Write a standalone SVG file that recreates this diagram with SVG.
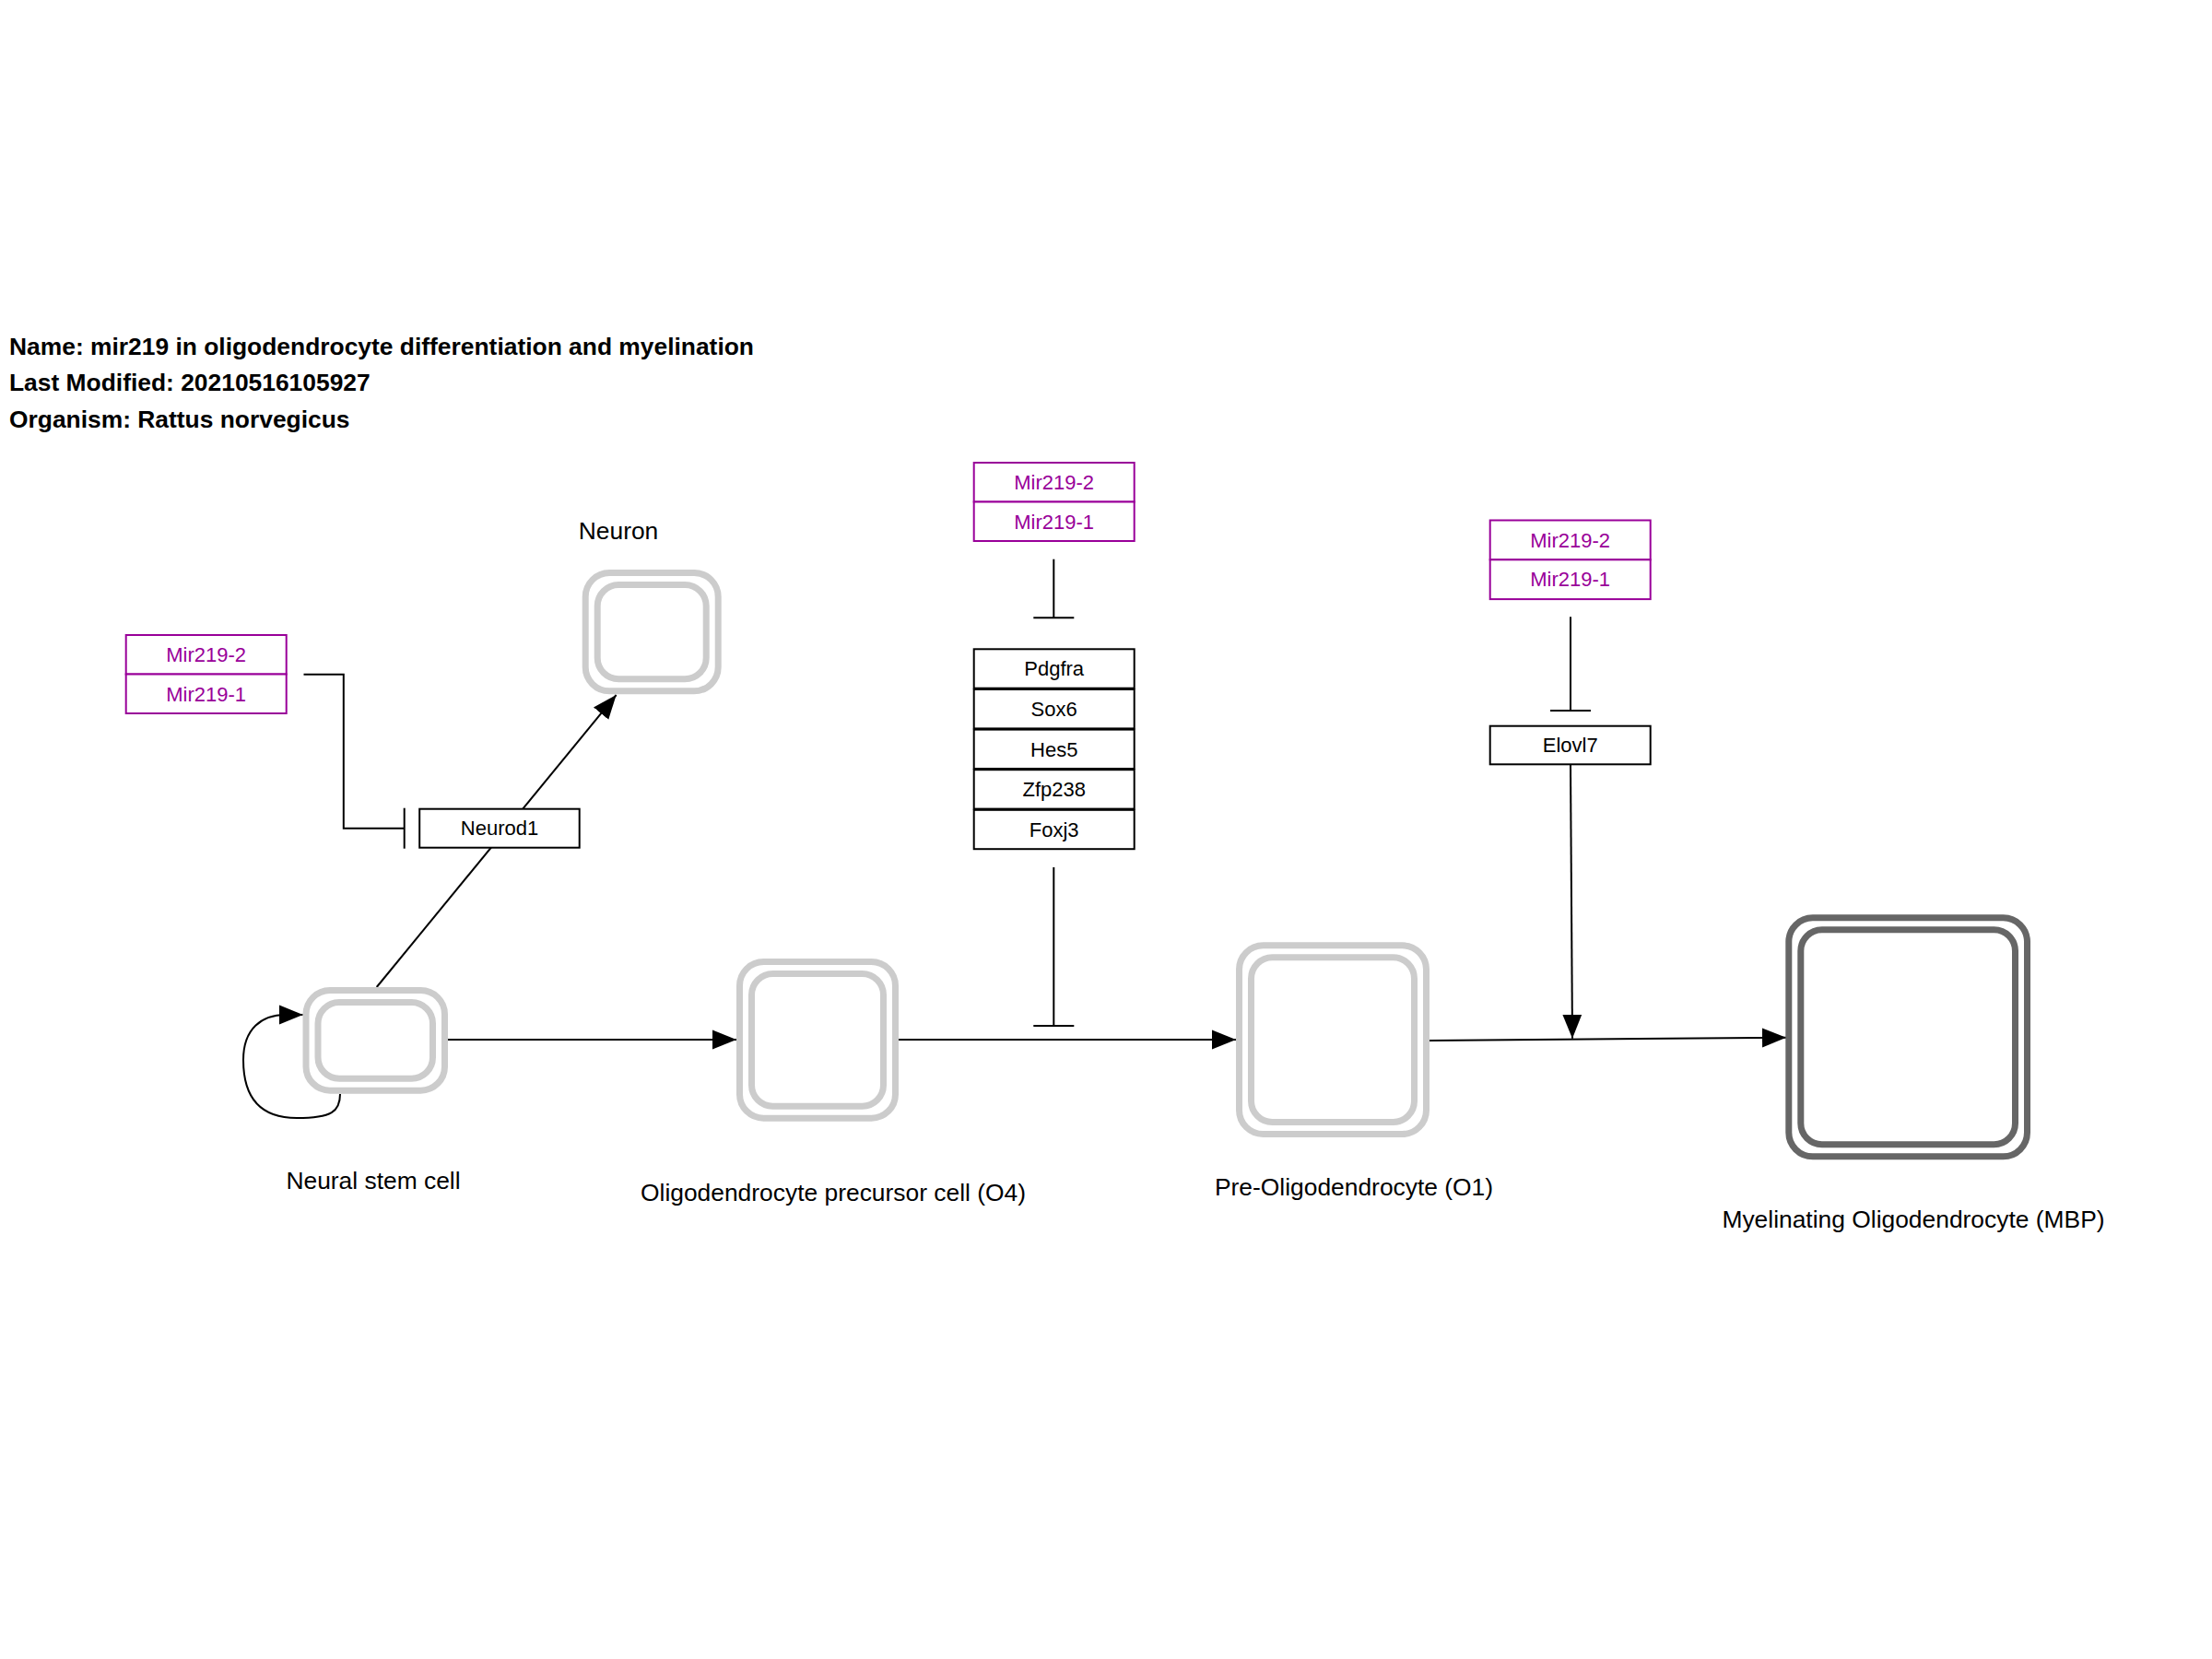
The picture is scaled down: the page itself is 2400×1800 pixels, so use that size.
<svg xmlns="http://www.w3.org/2000/svg" width="2400" height="1800" viewBox="0 0 2400 1800">
  <style>
    .title { font-family: "Liberation Sans", Arial, sans-serif; font-size: 26.4px; font-weight: bold; fill: #000; }
    .label { font-family: "Liberation Sans", Arial, sans-serif; font-size: 26.4px; fill: #000; text-anchor: middle; }
    .gene rect { fill: #fff; stroke: #000; stroke-width: 2; }
    .gene text { font-family: "Liberation Sans", Arial, sans-serif; font-size: 22px; fill: #000; text-anchor: middle; }
    .mirna rect { fill: #fff; stroke: #990099; stroke-width: 2; }
    .mirna text { font-family: "Liberation Sans", Arial, sans-serif; font-size: 22px; fill: #990099; text-anchor: middle; }
    .cell rect { fill: none; stroke-width: 7; }
    .cell.light rect { stroke: #cccccc; }
    .cell.dark rect { stroke: #666666; }
    .conn path, .conn line { fill: none; stroke: #000; stroke-width: 2; }
    .arrow { marker-end: url(#arrow); }
    .tbar { marker-end: url(#tbar); }
  </style>
  <defs>
    <marker id="arrow" markerUnits="userSpaceOnUse" markerWidth="28" markerHeight="24" viewBox="0 -12 28 24" refX="26" refY="0" orient="auto">
      <path d="M0,-10.5 L26,0 L0,10.5 Z" fill="#000" stroke="none"/>
    </marker>
    <marker id="tbar" markerUnits="userSpaceOnUse" markerWidth="6" markerHeight="48" viewBox="-3 -24 6 48" refX="0" refY="0" orient="auto">
      <path d="M0,-22 L0,22" stroke="#000" stroke-width="2" fill="none"/>
    </marker>
  </defs>
  <rect x="0" y="0" width="2400" height="1800" fill="#fff"/>

  <g id="info">
    <text class="title" x="10" y="384.5">Name: mir219 in oligodendrocyte differentiation and myelination</text>
    <text class="title" x="10" y="424.3">Last Modified: 20210516105927</text>
    <text class="title" x="10" y="464">Organism: Rattus norvegicus</text>
  </g>

  <g id="connectors" class="conn">
    <path class="arrow" d="M486,1128 L799,1128"/>
    <path class="arrow" d="M975,1128 L1341,1128"/>
    <path class="arrow" d="M1551,1129 L1938,1125.7"/>
    <path class="arrow" d="M408.7,1071 L668.6,754"/>
    <path class="arrow" d="M369,1187 C369,1206 360,1213 322,1213 C282,1213 264,1190 264,1150 C264,1116 284,1101 310,1101 L328.7,1101"/>
    <path class="tbar" d="M329.5,731.7 L372.8,731.7 L372.8,898.7 L438.7,898.7"/>
    <path class="tbar" d="M1143.3,606.7 L1143.3,670.3"/>
    <path class="tbar" d="M1143.3,941 L1143.3,1113"/>
    <path class="tbar" d="M1704,669.3 L1704,771"/>
    <path class="arrow" d="M1704,830 L1706,1126.7"/>
  </g>

  <g id="cell-nsc" class="cell light">
    <rect x="332" y="1074.5" width="150.5" height="108.7" rx="26"/>
    <rect x="345" y="1087.5" width="124.5" height="82.7" rx="23"/>
  </g>
  <g id="cell-neuron" class="cell light">
    <rect x="635.2" y="621.5" width="144" height="128.3" rx="26"/>
    <rect x="648.2" y="634.5" width="118" height="102.3" rx="23"/>
  </g>
  <g id="cell-opc" class="cell light">
    <rect x="802.5" y="1043.5" width="169" height="169.7" rx="26"/>
    <rect x="815.5" y="1056.5" width="143" height="143.7" rx="23"/>
  </g>
  <g id="cell-preol" class="cell light">
    <rect x="1344.5" y="1025.8" width="203" height="204.7" rx="26"/>
    <rect x="1357.5" y="1038.8" width="177" height="178.7" rx="23"/>
  </g>
  <g id="cell-myol" class="cell dark">
    <rect x="1940.8" y="995.8" width="258.7" height="259" rx="26"/>
    <rect x="1953.8" y="1008.8" width="232.7" height="233" rx="23"/>
  </g>

  <g id="labels">
    <text class="label" x="671" y="585">Neuron</text>
    <text class="label" x="405" y="1290">Neural stem cell</text>
    <text class="label" x="904" y="1303">Oligodendrocyte precursor cell (O4)</text>
    <text class="label" x="1469" y="1297">Pre-Oligodendrocyte (O1)</text>
    <text class="label" x="2076" y="1332">Myelinating Oligodendrocyte (MBP)</text>
  </g>

  <g id="mir-left" class="mirna">
    <rect x="136.7" y="689" width="174" height="42.5"/>
    <text x="223.7" y="718">Mir219-2</text>
    <rect x="136.7" y="731.5" width="174" height="42.5"/>
    <text x="223.7" y="760.5">Mir219-1</text>
  </g>
  <g id="mir-middle" class="mirna">
    <rect x="1056.7" y="502" width="174" height="42.5"/>
    <text x="1143.7" y="531">Mir219-2</text>
    <rect x="1056.7" y="544.5" width="174" height="42.5"/>
    <text x="1143.7" y="573.5">Mir219-1</text>
  </g>
  <g id="mir-right" class="mirna">
    <rect x="1616.7" y="564.5" width="174" height="42.8"/>
    <text x="1703.7" y="593.6">Mir219-2</text>
    <rect x="1616.7" y="607.3" width="174" height="42.8"/>
    <text x="1703.7" y="636.4">Mir219-1</text>
  </g>

  <g id="gene-neurod1" class="gene">
    <rect x="455.2" y="877.7" width="173.5" height="42"/>
    <text x="542" y="906.4">Neurod1</text>
  </g>
  <g id="gene-pdgfra" class="gene">
    <rect x="1056.7" y="704.3" width="174" height="42.4"/>
    <text x="1143.7" y="733.3">Pdgfra</text>
  </g>
  <g id="gene-sox6" class="gene">
    <rect x="1056.7" y="748" width="174" height="42.4"/>
    <text x="1143.7" y="777">Sox6</text>
  </g>
  <g id="gene-hes5" class="gene">
    <rect x="1056.7" y="791.6" width="174" height="42.4"/>
    <text x="1143.7" y="820.6">Hes5</text>
  </g>
  <g id="gene-zfp238" class="gene">
    <rect x="1056.7" y="835.2" width="174" height="42.4"/>
    <text x="1143.7" y="864.2">Zfp238</text>
  </g>
  <g id="gene-foxj3" class="gene">
    <rect x="1056.7" y="878.8" width="174" height="42.4"/>
    <text x="1143.7" y="907.8">Foxj3</text>
  </g>
  <g id="gene-elovl7" class="gene">
    <rect x="1616.7" y="787.7" width="174" height="41.6"/>
    <text x="1703.7" y="816.3">Elovl7</text>
  </g>
</svg>
